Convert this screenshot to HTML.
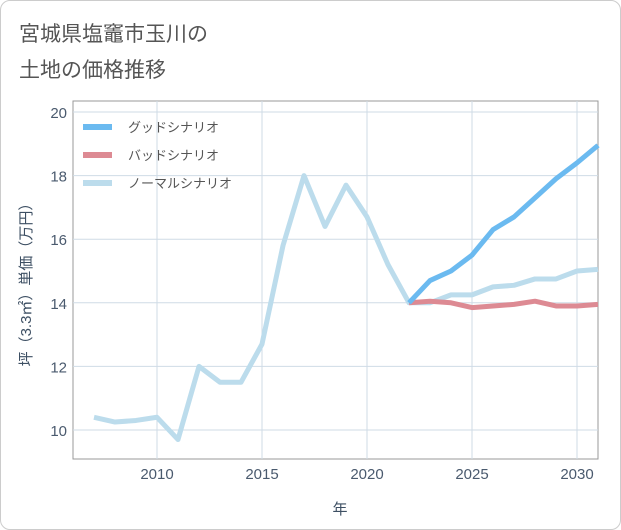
<!DOCTYPE html>
<html><head><meta charset="utf-8"><style>
body{margin:0;background:#fff;font-family:"Liberation Sans","Noto Sans CJK JP",sans-serif;}
#wrap{position:relative;width:619px;height:528px;border:1px solid #ccc;border-radius:10px;overflow:hidden;}
</style></head><body>
<div id="wrap">
<svg id="c" width="621" height="530">
<text x="18" y="40" font-size="21" fill="#555">宮城県塩竈市玉川の</text>
<text x="18" y="76" font-size="21" fill="#555">土地の価格推移</text>
<g id="grid"></g><g id="lines"></g><g id="legend"></g>
<text x="339" y="513" font-size="15" fill="#3d4f63" text-anchor="middle">年</text>
<text transform="translate(30,280) rotate(-90)" font-size="15" fill="#3d4f63" text-anchor="middle">坪（3.3㎡）単価（万円）</text>
</svg></div>
<script>
const years=[2007,2008,2009,2010,2011,2012,2013,2014,2015,2016,2017,2018,2019,2020,2021,2022,2023,2024,2025,2026,2027,2028,2029,2030,2031];
const normal=[10.4,10.25,10.3,10.4,9.7,12.0,11.5,11.5,12.7,15.8,18.0,16.4,17.7,16.7,15.2,14.0,14.0,14.25,14.25,14.5,14.55,14.75,14.75,15.0,15.05];
const goodYears=[2022,2023,2024,2025,2026,2027,2028,2029,2030,2031];
const good=[14.0,14.7,15.0,15.5,16.3,16.7,17.3,17.9,18.4,18.95];
const bad=[14.0,14.05,14.0,13.85,13.9,13.95,14.05,13.9,13.9,13.95];
const xTicks=[2010,2015,2020,2025,2030];
const yTicks=[10,12,14,16,18,20];
const NS='http://www.w3.org/2000/svg';
const L=72,R=597,T=100,B=458;
const x=v=>156+(v-2010)*21;
const y=v=>429-(v-10)*31.8;
function mk(t,a,p){const e=document.createElementNS(NS,t);for(const k in a)e.setAttribute(k,a[k]);p.appendChild(e);return e;}
const g=document.getElementById('grid');
const frame=mk('rect',{x:L,y:T,width:R-L,height:B-T,fill:'none',stroke:'#999','stroke-width':1},g);


xTicks.forEach(v=>{
 const l=mk('line',{x1:x(v),x2:x(v),y1:T,y2:B,stroke:'#cfdbe6'},g);
 
 
 const t=mk('text',{x:x(v),y:478,'font-size':15,fill:'#4a5a6e','text-anchor':'middle'},g);t.textContent=v;
 
 
});
yTicks.forEach(v=>{
 const l=mk('line',{x1:L,x2:R,y1:y(v),y2:y(v),stroke:'#cfdbe6'},g);
 
 
 const t=mk('text',{x:66,y:y(v)+6,'font-size':15,fill:'#4a5a6e','text-anchor':'end'},g);t.textContent=v;
 
 
});
const ln=document.getElementById('lines');
function series(xs,ys,col,name){
 const p=mk('polyline',{points:xs.map((v,i)=>x(v)+','+y(ys[i])).join(' '),fill:'none',stroke:col,'stroke-width':5,'stroke-linejoin':'round'},ln);
 
 
}
series(years,normal,'#bcdcec','normal-scenario-line');
series(goodYears,bad,'#dd8a93','bad-scenario-line');
series(goodYears,good,'#6bbaf0','good-scenario-line');
const lg=document.getElementById('legend');
[['グッドシナリオ','#6bbaf0'],['バッドシナリオ','#dd8a93'],['ノーマルシナリオ','#bcdcec']].forEach((d,i)=>{
 const yy=126+i*28;
 const gg=mk('g',{},lg);
 
 
 mk('rect',{x:82,y:yy-3,width:29,height:6,fill:d[1]},gg);
 const t=mk('text',{x:127,y:yy+5,'font-size':13,fill:'#555'},gg);t.textContent=d[0];
});
</script>
</body></html>
